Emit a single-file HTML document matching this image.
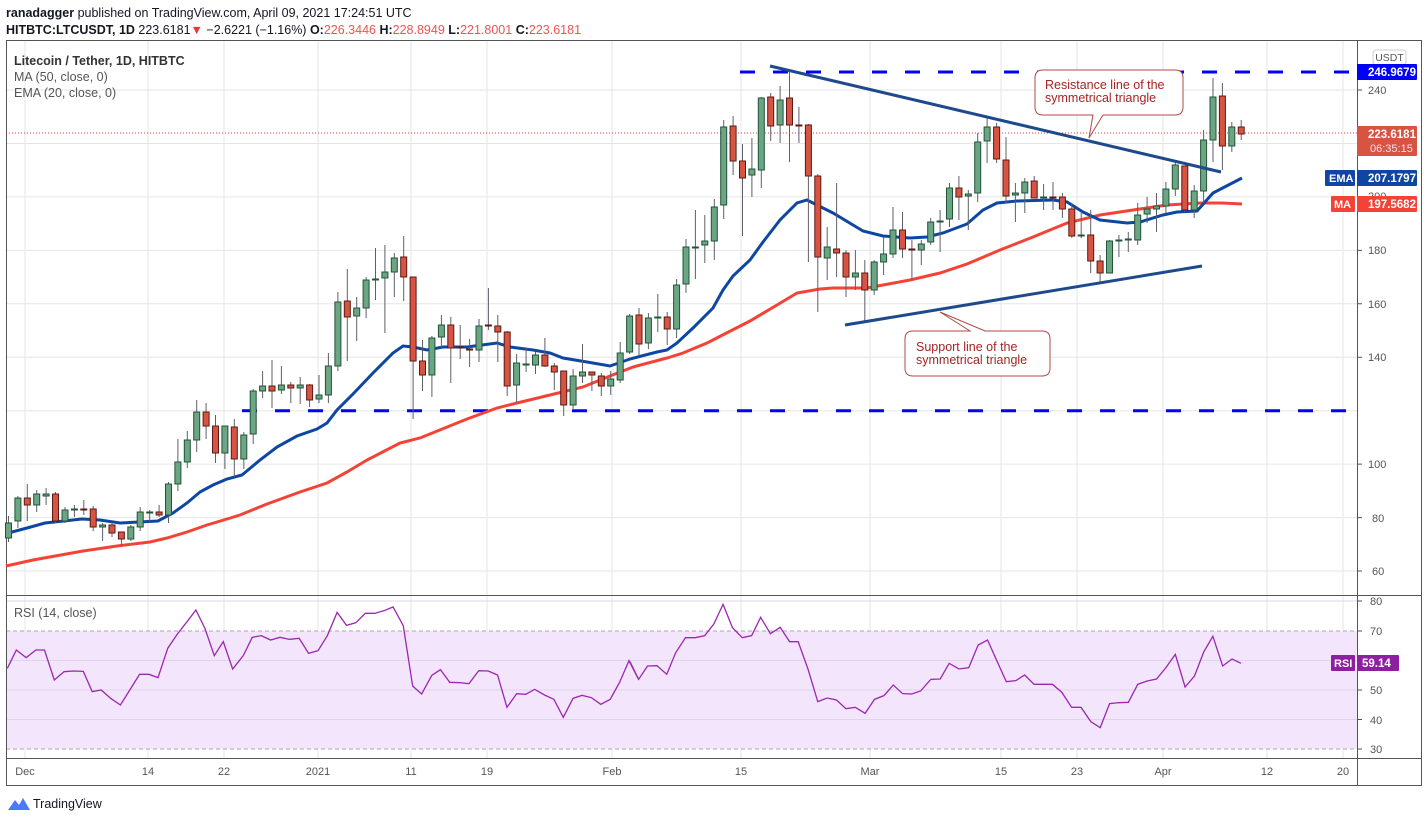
<!DOCTYPE html>
<html><head><meta charset="utf-8"><style>
body{margin:0;background:#fff;width:1428px;height:823px;overflow:hidden;font-family:"Liberation Sans",sans-serif}
svg{position:absolute;left:0;top:0}
</style></head><body>
<svg width="1428" height="823" viewBox="0 0 1428 823" font-family="Liberation Sans, sans-serif">
<text x="6" y="17" font-size="12.5" fill="#131722"><tspan font-weight="bold">ranadagger</tspan> published on TradingView.com, April 09, 2021 17:24:51 UTC</text>
<text x="6" y="34" font-size="12.5" fill="#131722" font-weight="bold">HITBTC:LTCUSDT, 1D <tspan font-weight="normal">223.6181</tspan><tspan fill="#e53935">▼</tspan><tspan font-weight="normal"> −2.6221 (−1.16%) </tspan>O:<tspan fill="#ef5350" font-weight="normal">226.3446</tspan> H:<tspan fill="#ef5350" font-weight="normal">228.8949</tspan> L:<tspan fill="#ef5350" font-weight="normal">221.8001</tspan> C:<tspan fill="#ef5350" font-weight="normal">223.6181</tspan></text>
<!-- grid -->
<g stroke="#e6e6e6" stroke-width="1">
<path d="M25 41V758M148 41V758M224 41V758M318 41V758M411 41V758M487 41V758M612 41V758M741 41V758M870 41V758M1001 41V758M1077 41V758M1163 41V758M1267 41V758M1343 41V758"/>
<path d="M6 571H1357M6 517.6H1357M6 464.1H1357M6 410.7H1357M6 357.2H1357M6 303.8H1357M6 250.4H1357M6 196.9H1357M6 143.5H1357M6 90H1357"/>
</g>
<!-- rsi band -->
<rect x="6" y="631" width="1351" height="118" fill="#f3e5fc"/>
<g stroke="#e0d4ea"><path d="M6 719.5H1357M6 690H1357M6 660.5H1357M6 601H1357"/></g>
<g stroke="#aaa" stroke-dasharray="4,3"><path d="M6 631H1357M6 749H1357"/></g>
<!-- frame -->
<g stroke="#555" fill="none" stroke-width="1">
<rect x="6.5" y="40.5" width="1415" height="745"/>
<path d="M1357.5 40V786M6 595.5H1421M6 758.5H1421"/>
</g>
<!-- price labels -->
<g font-size="11" fill="#555">
<text x="1368" y="94">240</text><text x="1368" y="200">200</text><text x="1368" y="254">180</text>
<text x="1368" y="308">160</text><text x="1368" y="361">140</text><text x="1368" y="468">100</text>
<text x="1372" y="522">80</text><text x="1372" y="575">60</text>
<text x="1370" y="605">80</text><text x="1370" y="635">70</text><text x="1370" y="694">50</text><text x="1370" y="724">40</text><text x="1370" y="753">30</text>
</g>
<g stroke="#555"><path d="M1357 90h5M1357 196.9h5M1357 250.4h5M1357 303.8h5M1357 357.2h5M1357 464.1h5M1357 517.6h5M1357 571h5M1357 601h5M1357 631h5M1357 690h5M1357 719.5h5M1357 749h5"/></g>
<g font-size="11" fill="#555" text-anchor="middle">
<text x="25" y="775">Dec</text><text x="148" y="775">14</text><text x="224" y="775">22</text><text x="318" y="775">2021</text>
<text x="411" y="775">11</text><text x="487" y="775">19</text><text x="612" y="775">Feb</text><text x="741" y="775">15</text>
<text x="870" y="775">Mar</text><text x="1001" y="775">15</text><text x="1077" y="775">23</text><text x="1163" y="775">Apr</text>
<text x="1267" y="775">12</text><text x="1343" y="775">20</text>
</g>
<!-- legend -->
<text x="14" y="65" font-size="12.5" fill="#333" font-weight="bold">Litecoin / Tether, 1D, HITBTC</text>
<text x="14" y="81" font-size="12.5" fill="#555">MA (50, close, 0)</text>
<text x="14" y="97" font-size="12.5" fill="#555">EMA (20, close, 0)</text>
<text x="14" y="617" font-size="12.5" fill="#555">RSI (14, close)</text>
<!-- horizontal levels -->
<path d="M740 72H1357" stroke="#0000ff" stroke-width="3" stroke-dasharray="15,18"/>
<path d="M242 410.7H1357" stroke="#0000ff" stroke-width="3" stroke-dasharray="15,18"/>
<path d="M6 133H1357" stroke="#e53935" stroke-width="1" stroke-dasharray="1,2"/>
<!-- MAs -->
<polyline fill="none" stroke="#f44336" stroke-width="3" points="6,566 33,560 83,551 117,546 150,542 167,538 187,532 207,525 227,519 240,515 267,504 300,492 327,483 347,472 367,460 400,443 420,438 467,419 497,408 517,403 550,395 583,387 610,376 633,367 667,358 683,353 707,343 750,321 777,305 797,293 820,289 833,288 867,288 883,285 910,280 940,273 967,264 1000,250 1033,237 1067,223 1100,215 1133,210 1167,205 1200,203 1222,203 1242,204"/>
<polyline fill="none" stroke="#0d47a1" stroke-width="3" points="6,534 8,533 27,528 45,523 82,519 100,520 120,523 139,522 158,521 173,513 187,503 200,492 213,485 227,479 242,475 260,460 277,447 297,436 317,429 327,423 337,410 353,394 373,373 393,353 403,346 413,347 427,350 443,347 467,347 497,343 510,347 533,350 550,353 563,358 587,362 610,366 630,359 657,352 667,350 677,343 693,328 713,308 723,290 733,276 750,260 763,242 780,220 797,203 807,200 833,213 863,231 883,236 910,238 927,237 943,233 967,224 983,210 997,203 1017,201 1053,200 1067,202 1083,212 1100,220 1127,223 1140,222 1163,215 1177,212 1197,211 1213,193 1242,178"/>
<!-- wicks -->
<path stroke="#5d606b" stroke-width="1" fill="none" d="M8.5 516V542M17.9 496V528M27.3 484V521M36.7 490V512M46.1 488V505M55.5 492V523M65 507V523M74.4 505V517M83.8 500V515M93.2 506V531M102.6 523V541M112 523V537M121.4 532V546M130.8 525V541M140.2 507V531M149.7 510V522M159.1 505V517M168.5 482V523M177.9 439V491M187.3 431V468M196.7 400V452M206.1 403V439M215.5 415V463M224.9 426V469M234.3 419V477M243.8 432V469M253.2 389V444M262.6 371V398M272 360V408M281.4 366V394M290.8 382V403M300.2 377V404M309.6 384V407M319 375V403M328.4 353V403M337.9 292V371M347.3 269V361M356.7 297V341M366.1 277V318M375.5 248V300M384.9 245V333M394.3 253V297M403.7 236V301M413.1 277V419M422.5 340V391M431.9 336V397M441.4 315V349M450.8 317V383M460.2 325V359M469.6 339V367M479 319V362M488.4 288V330M497.8 315V362M507.2 331V396M516.6 354V403M526.1 348V372M535.5 352V374M544.9 338V367M554.3 363V390M563.7 371V416M573.1 369V410M582.5 344V383M591.9 372V391M601.3 373V396M610.7 371V395M620.2 342V383M629.6 314V354M639 308V355M648.4 313V349M657.8 294V332M667.2 312V345M676.6 279V338M686 239V293M695.4 210V279M704.8 215V263M714.3 199V260M723.7 120V219M733.1 116V175M742.5 144V236M751.9 138V197M761.3 97V188M770.7 93V141M780.1 86V143M789.5 72V162M798.9 107V143M808.4 124V262M817.8 174V312M827.2 227V280M836.6 183V277M846 250V297M855.4 250V290M864.8 260V323M874.2 260V295M883.6 237V275M893 207V258M902.5 212V258M911.9 240V280M921.3 240V265M930.7 218V245M940.1 210V252M949.5 183V227M958.9 176V220M968.3 190V230M977.7 133V202M987.1 117V163M996.6 123V163M1006 137V203M1015.4 183V222M1024.8 178V213M1034.2 176V198M1043.6 184V210M1053 182V210M1062.4 193V218M1071.8 203V238M1081.2 213V238M1090.7 210V273M1100.1 255V282M1109.5 240V273M1118.9 235V257M1128.3 232V252M1137.7 203V245M1147.1 197V223M1156.5 193V232M1165.9 182V213M1175.3 160V196M1184.8 166V212M1194.2 185V218M1203.6 130V203M1213 78V162M1222.4 83V170M1231.8 122V152M1241.2 120V140"/>
<!-- green bodies -->
<path fill="#6ba583" stroke="#225437" stroke-width="1" d="M5.5 523h6v15h-6zM14.9 498h6v23h-6zM33.7 494h6v11h-6zM43.1 494h6v2h-6zM62 510h6v11h-6zM71.4 509h6v1h-6zM99.6 525h6v2h-6zM127.8 527h6v12h-6zM137.2 512h6v15h-6zM146.7 512h6v1h-6zM165.5 484h6v31h-6zM174.9 462h6v22h-6zM184.3 440h6v22h-6zM193.7 412h6v28h-6zM221.9 426h6v27h-6zM240.8 435h6v24h-6zM250.2 391h6v43h-6zM259.6 386h6v5h-6zM278.4 385h6v5h-6zM297.2 385h6v3h-6zM316 395h6v4h-6zM325.4 366h6v29h-6zM334.9 302h6v64h-6zM353.7 308h6v8h-6zM363.1 280h6v28h-6zM372.5 279h6v1h-6zM381.9 272h6v6h-6zM391.3 258h6v14h-6zM428.9 338h6v37h-6zM438.4 325h6v12h-6zM476 326h6v24h-6zM513.6 363h6v22h-6zM523.1 364h6v1h-6zM532.5 355h6v10h-6zM570.1 376h6v29h-6zM579.5 372h6v4h-6zM607.7 379h6v7h-6zM617.2 353h6v27h-6zM626.6 316h6v36h-6zM645.4 318h6v25h-6zM654.8 317h6v1h-6zM673.6 285h6v44h-6zM683 247h6v37h-6zM692.4 247h6v1h-6zM701.8 241h6v4h-6zM711.3 207h6v34h-6zM720.7 127h6v78h-6zM748.9 169h6v6h-6zM758.3 98h6v72h-6zM777.1 100h6v25h-6zM824.2 247h6v11h-6zM852.4 273h6v4h-6zM871.2 262h6v28h-6zM880.6 254h6v8h-6zM890 230h6v24h-6zM918.3 244h6v6h-6zM927.7 222h6v20h-6zM937.1 221h6v1h-6zM946.5 188h6v31h-6zM965.3 194h6v2h-6zM974.7 142h6v51h-6zM984.1 127h6v14h-6zM1012.4 193h6v2h-6zM1021.8 182h6v11h-6zM1040.6 197h6v1h-6zM1078.2 235h6v1h-6zM1106.5 241h6v32h-6zM1115.9 240h6v1h-6zM1125.3 239h6v1h-6zM1134.7 215h6v25h-6zM1144.1 209h6v5h-6zM1153.5 206h6v3h-6zM1162.9 189h6v17h-6zM1172.3 165h6v24h-6zM1191.2 191h6v19h-6zM1200.6 140h6v51h-6zM1210 97h6v43h-6zM1228.8 127h6v19h-6z"/>
<!-- red bodies -->
<path fill="#d75442" stroke="#5b1a13" stroke-width="1" d="M24.3 498h6v7h-6zM52.5 494h6v27h-6zM80.8 509h6v1h-6zM90.2 509h6v18h-6zM109 525h6v8h-6zM118.4 532h6v7h-6zM156.1 512h6v3h-6zM203.1 412h6v14h-6zM212.5 426h6v27h-6zM231.3 427h6v32h-6zM269 386h6v5h-6zM287.8 385h6v3h-6zM306.6 385h6v15h-6zM344.3 301h6v16h-6zM400.7 257h6v20h-6zM410.1 277h6v84h-6zM419.5 361h6v14h-6zM447.8 325h6v23h-6zM457.2 347h6v1h-6zM466.6 349h6v1h-6zM485.4 325h6v1h-6zM494.8 326h6v6h-6zM504.2 332h6v54h-6zM541.9 355h6v11h-6zM551.3 366h6v6h-6zM560.7 371h6v34h-6zM588.9 372h6v3h-6zM598.3 376h6v10h-6zM636 315h6v29h-6zM664.2 317h6v12h-6zM730.1 126h6v35h-6zM739.5 161h6v17h-6zM767.7 97h6v29h-6zM786.5 98h6v27h-6zM795.9 125h6v1h-6zM805.4 125h6v51h-6zM814.8 176h6v81h-6zM833.6 249h6v4h-6zM843 253h6v24h-6zM861.8 273h6v17h-6zM899.5 230h6v19h-6zM908.9 249h6v1h-6zM955.9 188h6v9h-6zM993.6 127h6v32h-6zM1003 160h6v36h-6zM1031.2 181h6v17h-6zM1050 197h6v1h-6zM1059.4 197h6v12h-6zM1068.8 209h6v27h-6zM1087.7 235h6v26h-6zM1097.1 261h6v12h-6zM1181.8 166h6v44h-6zM1219.4 96h6v50h-6zM1238.2 127h6v7h-6z"/>
<!-- triangle lines -->
<path d="M770 66L1221 172" stroke="#1e4a8c" stroke-width="3"/>
<path d="M845 325L1202 266" stroke="#1e4a8c" stroke-width="3"/>
<!-- callouts -->
<path d="M1043 70H1175Q1183 70 1183 78V107Q1183 115 1175 115H1103L1089 138L1093 115H1043Q1035 115 1035 107V78Q1035 70 1043 70Z" fill="#fff" stroke="#b04848" stroke-width="1"/>
<text x="1045" y="89" font-size="12.5" fill="#a52424">Resistance line of the</text>
<text x="1045" y="102" font-size="12.5" fill="#a52424">symmetrical triangle</text>
<path d="M913 331H970L940 312L985 331H1042Q1050 331 1050 339V368Q1050 376 1042 376H913Q905 376 905 368V339Q905 331 913 331Z" fill="#fff" stroke="#b04848" stroke-width="1"/>
<text x="916" y="351" font-size="12.5" fill="#a52424">Support line of the</text>
<text x="916" y="364" font-size="12.5" fill="#a52424">symmetrical triangle</text>
<!-- RSI -->
<g transform="translate(0,595) scale(0.40816,0.33333)"><polyline fill="none" stroke="#9c27b0" stroke-width="1.3" vector-effect="non-scaling-stroke" points="18,220 40,165 64,188 88,165 109,165 133,255 157,230 180,228 204,229 226,290 248,285 271,310 295,330 318,285 342,238 365,238 387,248 411,160 434,118 457,82 480,45 502,100 525,182 547,140 570,222 596,182 618,127 640,122 663,135 686,127 709,133 733,130 756,175 779,167 802,122 826,52 849,91 872,83 895,55 918,55 941,47 963,36 988,92 1011,273 1033,297 1058,241 1079,224 1102,262 1126,263 1149,266 1173,227 1196,228 1219,240 1242,337 1266,296 1288,298 1310,283 1334,300 1357,313 1380,367 1404,310 1426,301 1449,308 1472,328 1495,313 1518,262 1541,197 1564,252"/></g>
<g transform="translate(630,595) scale(0.40816,0.33333)"><polyline fill="none" stroke="#9c27b0" stroke-width="1.3" vector-effect="non-scaling-stroke" points="0,200 21,253 43,213 66,212 90,238 112,173 136,128 160,128 183,122 205,88 228,28 251,98 275,128 298,122 320,67 344,116 368,97 391,140 412,140 436,222 460,320 483,309 506,315 529,341 552,337 576,355 599,313 622,302 645,270 668,296 690,297 712,288 737,253 760,252 782,205 806,222 830,218 853,150 876,135 899,198 922,260 945,257 967,240 990,268 1035,268 1058,292 1082,337 1105,337 1129,380 1152,398 1175,326 1198,323 1221,322 1244,268 1267,258 1290,252 1313,218 1336,178 1360,276 1383,243 1406,170 1428,124 1452,213 1475,192 1497,205"/></g>
<!-- right axis boxes -->
<rect x="1373" y="50" width="33" height="15" rx="3" fill="#fff" stroke="#ccc"/>
<text x="1389.5" y="61" font-size="10.5" fill="#555" text-anchor="middle">USDT</text>
<rect x="1357" y="64" width="60" height="16" rx="1" fill="#0000ff"/>
<text x="1368" y="76" font-size="11.5" font-weight="bold" fill="#fff">246.9679</text>
<rect x="1357" y="126" width="60" height="30" rx="1" fill="#d75442"/>
<text x="1368" y="138" font-size="11.5" font-weight="bold" fill="#fff">223.6181</text>
<text x="1370" y="152" font-size="11" fill="#fde">06:35:15</text>
<rect x="1325" y="170" width="30" height="16" rx="1" fill="#0d47a1"/>
<text x="1329" y="182" font-size="11" font-weight="bold" fill="#fff">EMA</text>
<rect x="1357" y="170" width="60" height="16" rx="1" fill="#0d47a1"/>
<text x="1368" y="182" font-size="11.5" font-weight="bold" fill="#fff">207.1797</text>
<rect x="1331" y="196" width="24" height="16" rx="1" fill="#f44336"/>
<text x="1334" y="208" font-size="11" font-weight="bold" fill="#fff">MA</text>
<rect x="1357" y="196" width="60" height="16" rx="1" fill="#f44336"/>
<text x="1368" y="208" font-size="11.5" font-weight="bold" fill="#fff">197.5682</text>
<rect x="1331" y="655" width="24" height="16" rx="1" fill="#8e1fa0"/>
<text x="1334" y="667" font-size="11" font-weight="bold" fill="#fff">RSI</text>
<rect x="1357" y="655" width="42" height="16" rx="1" fill="#8e1fa0"/>
<text x="1362" y="667" font-size="11.5" font-weight="bold" fill="#fff">59.14</text>
<!-- logo -->
<path d="M8 810l7-10 4 5 4-7 7 12z" fill="#2962ff" opacity="0.85"/>
<text x="33" y="808" font-size="12.5" fill="#131722">TradingView</text>
</svg>
</body></html>
